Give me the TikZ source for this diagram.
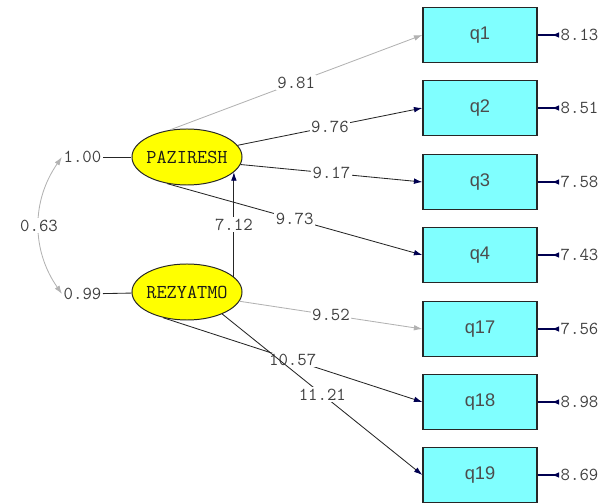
\documentclass[tikz,border=0pt]{standalone}
\usepackage{fontspec}
\setsansfont{Liberation Sans}
\usetikzlibrary{arrows.meta,shapes.geometric}
\definecolor{lvcyan}{RGB}{128,255,255}
\definecolor{lvyellow}{RGB}{255,255,0}
\definecolor{lvnavy}{RGB}{0,0,80}
\definecolor{lvgray}{RGB}{178,178,178}

\begin{document}
\begin{tikzpicture}[x=0.025cm,y=-0.025cm,
	obs/.style={draw=black!85,line width=0.9pt,fill=lvcyan,minimum width=2.85cm,minimum height=1.375cm,inner sep=0pt,font=\sffamily\fontsize{13}{13}\selectfont,text=black!70},
	lat/.style={ellipse,draw=black!85,line width=0.7pt,fill=lvyellow,minimum width=2.75cm,minimum height=1.4cm,inner sep=0pt},
	latname/.style={font=\ttfamily\fontsize{14}{14}\selectfont,text=black!90},
	num/.style={font=\ttfamily\fontsize{13}{13}\selectfont,text=black!75,inner sep=1pt},
	elbl/.style={num,fill=white},
	load/.style={draw=black!85,line width=0.6pt,-{Latex[length=6pt,width=4pt,color=lvnavy]}},
	weak/.style={draw=lvgray,line width=0.6pt,-{Latex[length=6pt,width=4pt]}},
	err/.style={draw=lvnavy,line width=0.8pt,-{Latex[length=5pt,width=4pt,reversed]}}]
	\useasboundingbox (0,0) rectangle (607,504);

	% observed variables with their error terms
	\foreach \v/\y/\e in {q1/35/8.13, q2/108/8.51, q3/182/7.58, q4/255/7.43, q17/329/7.56, q18/402/8.98, q19/475/8.69}{
		\node[obs] (\v) at (480,\y) {\v};
		\node[num,anchor=west] (e\v) at (559,\y) {\e};
		\draw[err] (\v.east) -- (e\v.west);
	}

	% latent variables
	\node[lat,label={[latname]center:PAZIRESH}] (pa) at (187,157) {};
	\node[lat,label={[latname]center:REZYATMO}] (re) at (187,292) {};
	\node[num,anchor=east] (vpa) at (103,157) {1.00};
	\node[num,anchor=east] (vre) at (103,294) {0.99};
	\draw[black!85,line width=0.6pt] (vpa) -- (pa);
	\draw[black!85,line width=0.6pt] (vre) -- (re);
	\draw[lvgray,line width=0.6pt,{Latex[length=6pt,width=4pt]}-{Latex[length=6pt,width=4pt]}]
		(vpa.west) to[bend right=35] node[elbl] {0.63} (vre.west); % covariance

	\draw[load] (re.18) -- node[elbl] {7.12} (pa.-18);

	% loadings
	\draw[weak] (pa.122) -- node[elbl] {9.81} (q1.west);
	\draw[load] (pa.13) -- node[elbl] {9.76} (q2.west);
	\draw[load] (pa.-8) -- node[elbl] {9.17} (q3.west);
	\draw[load] (pa.233) -- node[elbl] {9.73} (q4.west);
	\draw[weak] (re.-10) -- node[elbl] {9.52} (q17.west);
	\draw[load] (re.227) -- node[elbl] {10.57} (q18.west);
	\draw[load] (re.-32) -- node[elbl] {11.21} (q19.west);
\end{tikzpicture}
\end{document}
